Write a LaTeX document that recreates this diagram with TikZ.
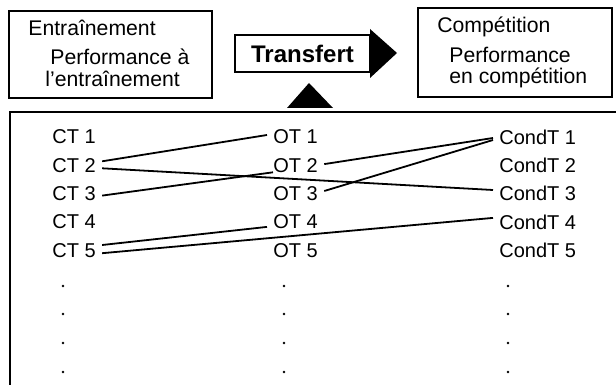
\documentclass[tikz,border=0pt]{standalone}
\usepackage{fontspec}
\setmainfont{Liberation Sans}

\begin{document}
\begin{tikzpicture}[x=0.5pt,y=-0.5pt]
                            \useasboundingbox (0,0) rectangle (616,385);
                            % top boxes
                            \draw[line width=0.6pt] (9,11) rectangle (212,98);
                            \draw[line width=0.6pt] (418,8) rectangle (612,97);
                            \begin{scope}[every node/.style={anchor=west,inner sep=0pt,font=\fontsize{10.6}{13}\selectfont}]
                                \node (entr) at (28,28) {Entraînement};
                                \node (perfentr) at (50,57) {Performance à};
                                \node (perfentrb) at (45,79) {l'entraînement};
                                \node (comp) at (437,27) {Compétition};
                                \node (perfcomp) at (449,55) {Performance};
                                \node (perfcompb) at (449,78) {en compétition};
                            \end{scope}
                            % transfert arrow
                            \node[draw,line width=0.6pt,minimum width=67.5pt,minimum height=18.5pt,inner sep=0pt,font=\fontsize{12}{14}\bfseries] (transfert) at (302.5,53.5) {Transfert};
                            \fill (370,29) -- (397,53) -- (370,78) -- cycle;
                            \fill (287,108) -- (333,108) -- (309,83) -- cycle;
                            % lower frame
                            \draw[line width=0.7pt] (616,112) -- (10,112) -- (10,385);
                            \begin{scope}[every node/.style={anchor=west,inner xsep=3pt,inner ysep=0pt,font=\fontsize{10}{12}\selectfont}]
                                \foreach \i in {1,...,5} {
                                    \node (ct\i) at (46,{137+28.3*(\i-1)}) {CT \i};
                                    \node (ot\i) at (267,{137+28.3*(\i-1)}) {OT \i};
                                    \node (cdt\i) at (493,{137+28.3*(\i-1)}) {CondT \i};
                                }
                            \end{scope}
                            \foreach \y in {286,314,343,372} {
                                \fill (63,\y) circle[radius=1.3];
                                \fill (284,\y) circle[radius=1.3];
                                \fill (508,\y) circle[radius=1.3];
                            }
                            \begin{scope}[line width=0.9pt]
                                \draw ([yshift=2pt]ct2.east) -- ([yshift=1pt]ot1.west);
                                \draw ([yshift=-1.5pt]ct2.east) -- ([yshift=1.8pt]cdt3.west);
                                \draw ([yshift=-1pt]ct3.east) -- ([xshift=3pt,yshift=-3.5pt]ot2.west);
                                \draw ([yshift=0.6pt]ot2.east) -- ([yshift=-0.5pt]cdt1.west);
                                \draw ([yshift=1.3pt]ot3.east) -- ([yshift=-1.5pt]cdt1.west);
                                \draw ([yshift=2.6pt]ct5.east) -- ([yshift=-2.5pt]ot4.west);
                                \draw ([yshift=-1.5pt]ct5.east) -- ([yshift=2pt]cdt4.west);
                            \end{scope}
                        \end{tikzpicture}
\end{document}
